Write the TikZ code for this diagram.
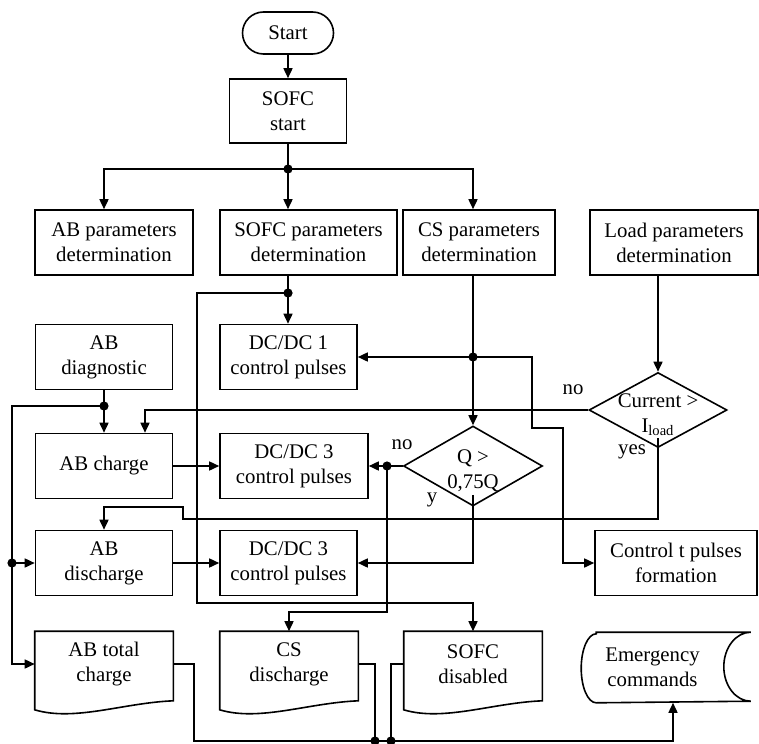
\documentclass[tikz,border=0pt]{standalone}
\usepackage{fontspec}
\setmainfont{Liberation Serif}
\usetikzlibrary{arrows.meta,positioning,calc,shapes.geometric}
\tikzset{
  blk/.style={draw,rectangle,minimum width=68.5pt,minimum height=32.5pt,align=center,inner sep=1pt},
  termblk/.style={draw,rectangle,rounded corners=10.5pt,minimum width=45.5pt,minimum height=21pt},
  docblk/.style={rectangle,minimum width=68.5pt,minimum height=32pt,align=center,inner sep=1pt},
  decblk/.style={draw,diamond,inner sep=0pt,minimum width=69.5pt,minimum height=40pt},
  storeblk/.style={rectangle,minimum width=70.5pt,minimum height=34.5pt,align=center},
  arr/.style={-{Triangle[length=5pt,width=4.5pt]}},
  lbl/.style={inner sep=0pt}
}
\begin{document}
\begin{tikzpicture}[x=0.5pt,y=-0.5pt,line width=0.8pt,font=\fontsize{10.4}{12.5}\selectfont]
  \useasboundingbox (0,0) rectangle (759,743);
  % Start
  \node[termblk] (start) at (288,33) {Start};
  \node[blk,minimum width=58.5pt,minimum height=32pt] (sofcs) at (288,111) {SOFC\\start};

  % Parameters row
  \node[blk,minimum width=79pt] (abp) at (114,242.5) {AB parameters\\determination};
  \node[blk,minimum width=88.5pt] (sofp) at (308.5,242.5) {SOFC parameters\\determination};
  \node[blk,minimum width=76pt] (csp) at (479,242.5) {CS parameters\\determination};
  \node[blk,minimum width=84pt] (ldp) at (674,242.5) {Load parameters\\determination};

  % AB column
  \node[blk] (abd) at (104,357) {AB\\diagnostic};
  \node[blk] (abc) at (104,466) {AB charge};
  \node[blk] (abdis) at (104,563) {AB\\discharge};
  \node[docblk] (abt) at (104,664) {AB total\\charge};

  % DC/DC column and documents
  \node[blk] (dc1) at (288.5,357) {DC/DC 1\\control pulses};
  \node[blk,minimum width=74pt] (dc3a) at (294,466) {DC/DC 3\\control pulses};
  \node[blk] (dc3b) at (288.5,563) {DC/DC 3\\control pulses};
  \node[docblk] (csd) at (289,664) {CS\\discharge};
  \node[docblk] (sofd) at (473,664) {SOFC\\disabled};

  % Decisions
  \node[decblk,label={[align=center,yshift=-2.5pt]center:{Q >\\0,75Q}}] (q) at (473,466) {};
  \node[decblk,minimum width=69pt,minimum height=37.5pt,label={[align=center,yshift=-2.5pt]center:{Current >\\I\textsubscript{load}}}] (cur) at (658,410) {};

  % Outputs
  \node[blk,minimum width=81pt] (ctp) at (676,563) {Control t pulses\\formation};
  \node[storeblk] (emer) at (652.5,667.5) {Emergency\\commands};

  % Labels
  \node[lbl] (noq) at (402,445) {no};
  \node[lbl] (nocur) at (573,390) {no};
  \node[lbl] (yescur) at (632,452) {yes};
  \node[lbl] (yq) at (432,500) {y};

  % Document and storage outlines
  \foreach \d in {abt,csd,sofd}
    \draw (\d.north west) -- (\d.north east) -- ([yshift=-2pt]\d.south east)
      .. controls +(-25pt,-1pt) and +(20pt,-6pt) .. ([yshift=-6.5pt]\d.south west) -- cycle;
  \draw ([xshift=7.5pt]emer.north west) -- ([xshift=13.5pt]emer.north east)
    arc[start angle=90,end angle=270,x radius=13.5pt,y radius=17.25pt]
    -- ([xshift=7.5pt]emer.south west)
    arc[start angle=270,end angle=90,x radius=7.5pt,y radius=17.25pt] -- cycle;

  % Junctions and bends
  \coordinate (j1) at (288,169);
  \coordinate (j2) at (288,293);
  \coordinate (j3) at (473,357);
  \coordinate (j4) at (387,466);
  \coordinate (j5) at (104,406);
  \coordinate (j6) at (12,563);
  \coordinate (jc) at (375,741);
  \coordinate (js) at (391,741);
  \coordinate (sofl) at (197,603);
  \coordinate (csb1) at (532,428);
  \coordinate (csb2) at (563,428);
  \coordinate (csdn) at (387,612);
  \coordinate (yes1) at (183,519);
  \coordinate (yes2) at (183,507);
  \coordinate (botl) at (194,741);
  \coordinate (botr) at (673,741);

  % Top part
  \draw[arr] (start) -- (sofcs);
  \draw (sofcs) -- (j1);
  \draw[arr] (j1) -| (abd |- abp.north);
  \draw[arr] (j1) -- (j1 |- sofp.north);
  \draw[arr] (j1) -| (q |- csp.north);
  \draw[arr] (ldp.south -| cur) -- (cur.north);

  % SOFC branch
  \draw (sofp.south -| j2) -- (j2);
  \draw[arr] (j2) -- (j2 |- dc1.north);
  \draw[arr] (j2) -| (sofl) -| (sofd.north);

  % CS branch
  \draw (q |- csp.south) -- (j3);
  \draw[arr] (j3) -- (q.north);
  \draw[arr] (j3) -- (dc1.east);
  \draw[arr] (j3) -| (csb1) -- (csb2) |- (ctp.west);
  \draw (q.west) -- (j4);
  \draw[arr] (j4) -- (dc3a.east);
  \draw[arr] (j4) -- (csdn) -| (csd.north);
  \draw[arr] ([yshift=6pt]q.south) |- (dc3b.east);

  % Load branch
  \draw[arr] (cur.west) -| ([xshift=20.5pt]abc.north);
  \draw[arr] ([yshift=5pt]cur.south) |- (yes1) -- (yes2) -| (abdis.north);

  % AB branch
  \draw (abd) -- (j5);
  \draw[arr] (j5) -- (abc);
  \draw (j5) -| (j6);
  \draw[arr] (j6) -- (abdis.west);
  \draw[arr] (j6) |- (abt.west);
  \draw[arr] (abc) -- (dc3a);
  \draw[arr] (abdis) -- (dc3b);

  % Emergency collection
  \draw[arr] (abt.east) -| (botl) -- (botr) -- (botr |- emer.south);
  \draw (csd.east) -| (jc);
  \draw (sofd.west) -| (js);

  \foreach \j in {j1,j2,j3,j4,j5,j6,jc,js}
    \fill (\j) circle (2.3pt);
\end{tikzpicture}
\end{document}
